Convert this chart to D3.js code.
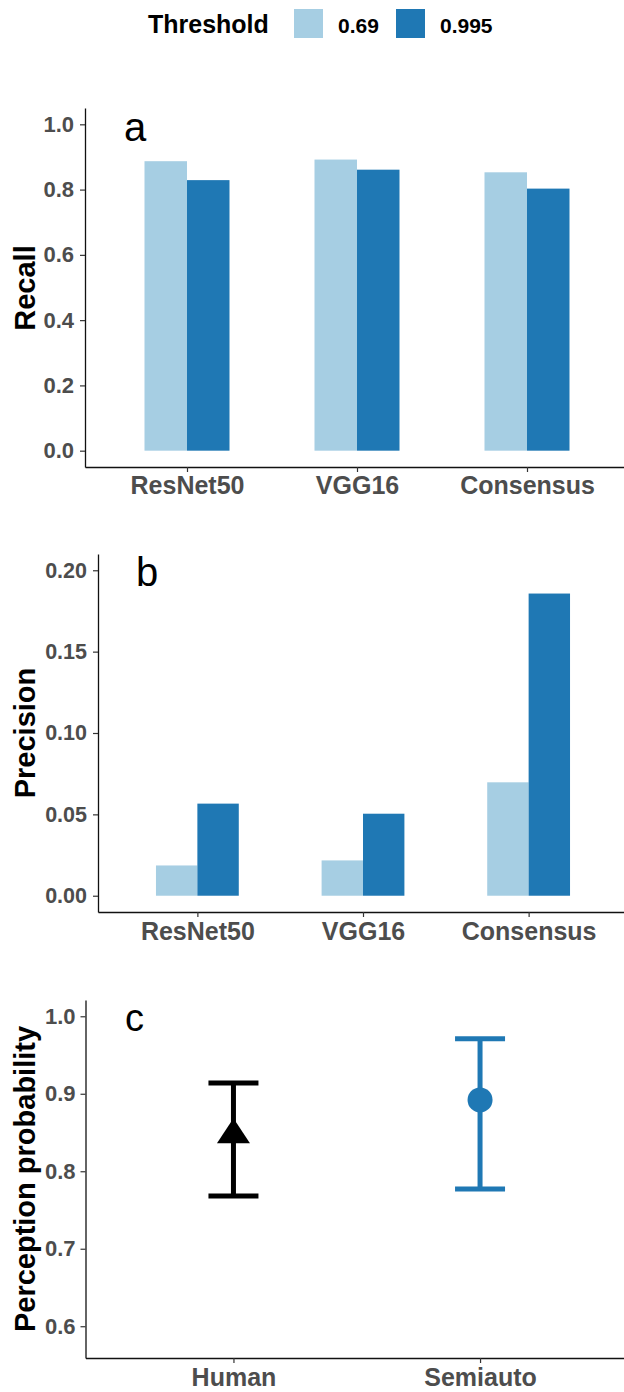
<!DOCTYPE html>
<meta charset="utf-8">
<title>Recall, precision and perception</title>
<style>
  body { margin: 0; background: #fff; }
  svg text { font-family: Arial, "Liberation Sans", sans-serif; }
</style>
<div id="viz"></div>
<script src="https://cdnjs.cloudflare.com/ajax/libs/d3/7.8.5/d3.min.js"></script>
<script>

// data
var categories = ["ResNet50", "VGG16", "Consensus"];
var thresholds = ["0.69", "0.995"];
var recall69 = [0.887, 0.892, 0.853];
var recall995 = [0.829, 0.861, 0.803];
var precision69 = [0.0186, 0.0217, 0.0697];
var precision995 = [0.0566, 0.0504, 0.1857];
var recallTicks = [0, 0.2, 0.4, 0.6, 0.8, 1.0];
var precisionTicks = [0, 0.05, 0.10, 0.15, 0.20];

var methods = ["Human", "Semiauto"];
var perceptMean = [0.847, 0.892];
var perceptLow = [0.768, 0.777];
var perceptHigh = [0.914, 0.971];
var perceptTicks = [0.6, 0.7, 0.8, 0.9, 1.0];

var width = 624;
var height = 1392;
var colors = { "0.69": "#a6cee3", "0.995": "#1f78b4" };
var tickGrey = "#4d4d4d";

var svg = d3.select("#viz")
  .append("svg")
  .attr("width", width)
  .attr("height", height);

// legend
var legend = svg.append("g");
legend.append("text")
  .attr("x", 148).attr("y", 33)
  .attr("font-size", 25).attr("font-weight", "bold")
  .text("Threshold");
var legendX = { "0.69": 294, "0.995": 396 };
thresholds.forEach(function(t) {
  legend.append("rect")
    .attr("x", legendX[t]).attr("y", 9)
    .attr("width", 29).attr("height", 29)
    .attr("fill", colors[t]);
  legend.append("text")
    .attr("x", legendX[t] + 44).attr("y", 33)
    .attr("font-size", 21).attr("font-weight", "bold")
    .text(t);
});

function styleAxis(g) {
  g.select(".domain").attr("stroke", "#111").attr("stroke-width", 1.3);
  g.selectAll(".tick line").attr("stroke", "#333").attr("stroke-width", 1.2);
  g.selectAll(".tick text").attr("fill", tickGrey).attr("font-weight", "bold")
    .attr("font-family", "Arial, 'Liberation Sans', sans-serif");
}

function yTitle(label, cy) {
  svg.append("text")
    .attr("transform", "translate(35," + cy + ") rotate(-90)")
    .attr("text-anchor", "middle")
    .attr("font-size", 29).attr("font-weight", "bold")
    .text(label);
}

function panelLetter(letter, x, y, size) {
  svg.append("text")
    .attr("x", x).attr("y", y)
    .attr("font-size", size)
    .text(letter);
}

// grouped bar panel
function barPanel(opts) {
  var x = d3.scalePoint().domain(categories)
    .range([opts.left, opts.right]).padding(0.6);
  var step = x.step();
  var x1 = d3.scaleBand().domain(thresholds)
    .range([-0.25 * step, 0.25 * step]);
  var y = d3.scaleLinear().domain(opts.domain).range([opts.bottom, opts.top]);

  var rows = [];
  categories.forEach(function(c, i) {
    rows.push({ cat: c, th: "0.69", v: opts.low[i] });
    rows.push({ cat: c, th: "0.995", v: opts.high[i] });
  });

  svg.append("g").selectAll("rect")
    .data(rows)
    .join("rect")
    .attr("x", function(d) { return x(d.cat) + x1(d.th); })
    .attr("width", x1.bandwidth())
    .attr("y", function(d) { return y(d.v); })
    .attr("height", function(d) { return y(0) - y(d.v); })
    .attr("fill", function(d) { return colors[d.th]; });

  var ya = svg.append("g")
    .attr("transform", "translate(" + opts.left + ",0)")
    .call(d3.axisLeft(y).tickValues(opts.ticks).tickFormat(d3.format(opts.fmt))
      .tickSize(5).tickPadding(6).tickSizeOuter(0));
  ya.selectAll(".tick text").attr("font-size", opts.yFont);
  styleAxis(ya);

  var xa = svg.append("g")
    .attr("transform", "translate(0," + opts.bottom + ")")
    .call(d3.axisBottom(x).tickSize(5).tickPadding(opts.xPad).tickSizeOuter(0));
  xa.selectAll(".tick text").attr("font-size", 25);
  styleAxis(xa);
}

// panel a
barPanel({
  left: 85, right: 629, top: 108, bottom: 467,
  domain: [-0.05, 1.05], low: recall69, high: recall995,
  ticks: recallTicks, fmt: ".1f", yFont: 22, xPad: 4.5
});
yTitle("Recall", 288);
panelLetter("a", 124, 141, 40);

// panel b
barPanel({
  left: 98, right: 628, top: 554, bottom: 912,
  domain: [-0.01, 0.21], low: precision69, high: precision995,
  ticks: precisionTicks, fmt: ".2f", yFont: 21.5, xPad: 5.5
});
yTitle("Precision", 733);
panelLetter("b", 136, 586, 40);

// panel c: point with error bars
(function() {
  var left = 85.5, right = 628, top = 1000, bottom = 1358;
  var x = d3.scalePoint().domain(methods).range([left, right]).padding(0.6);
  var y = d3.scaleLinear().domain([0.559, 1.021]).range([bottom, top]);
  var pointColors = ["#000000", "#1f78b4"];
  var capHalf = 25;

  var g = svg.append("g");
  methods.forEach(function(m, i) {
    var cx = x(m);
    var col = pointColors[i];
    g.append("line")
      .attr("x1", cx).attr("x2", cx)
      .attr("y1", y(perceptHigh[i])).attr("y2", y(perceptLow[i]))
      .attr("stroke", col).attr("stroke-width", 5);
    [perceptHigh[i], perceptLow[i]].forEach(function(v) {
      g.append("line")
        .attr("x1", cx - capHalf).attr("x2", cx + capHalf)
        .attr("y1", y(v)).attr("y2", y(v))
        .attr("stroke", col).attr("stroke-width", 5);
    });
    var cy = y(perceptMean[i]);
    if (m === "Human") {
      // filled triangle, centroid on the value
      g.append("path")
        .attr("d", "M" + cx + "," + (cy - 16.7) +
                   "L" + (cx + 16.5) + "," + (cy + 8.3) +
                   "L" + (cx - 16.5) + "," + (cy + 8.3) + "Z")
        .attr("fill", col);
    } else {
      g.append("circle")
        .attr("cx", cx).attr("cy", cy).attr("r", 12.5)
        .attr("fill", col);
    }
  });

  var ya = svg.append("g")
    .attr("transform", "translate(" + left + ",0)")
    .call(d3.axisLeft(y).tickValues(perceptTicks).tickFormat(d3.format(".1f"))
      .tickSize(5).tickPadding(5).tickSizeOuter(0));
  ya.selectAll(".tick text").attr("font-size", 22);
  styleAxis(ya);

  var xa = svg.append("g")
    .attr("transform", "translate(0," + bottom + ")")
    .call(d3.axisBottom(x).tickSize(5).tickPadding(5).tickSizeOuter(0));
  xa.selectAll(".tick text").attr("font-size", 25);
  styleAxis(xa);

  yTitle("Perception probability", 1179);
  panelLetter("c", 125, 1031, 38);
})();

</script>
